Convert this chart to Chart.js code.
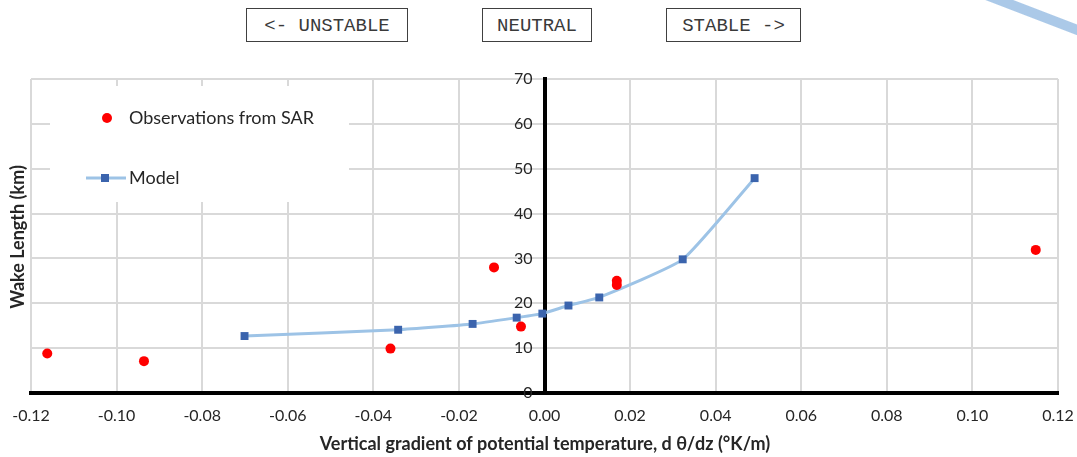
<!DOCTYPE html>
<html>
<head>
    <title>Wake Length vs Vertical Gradient</title>
    <script src="https://cdn.jsdelivr.net/npm/chart.js"></script>
    <style>
        body { margin: 0; background: #fff; }
        #wrap { position: relative; width: 1077px; height: 457px; overflow: hidden; }
        .tag {
            position: absolute; top: 8px; height: 34px; line-height: 34px;
            border: 1px solid #404040; box-sizing: border-box; text-align: center;
            font-family: "Liberation Mono", monospace; font-size: 19px; color: #3a3a3a;
            background: #fff;
        }
        #stroke {
            position: absolute; left: 955px; top: -22px; width: 170px; height: 10px;
            background: #abc9e8; transform-origin: 0 50%; transform: rotate(21deg);
            filter: blur(0.6px);
        }
    </style>
</head>
<body>
<div id="wrap">
    <canvas id="wakeChart" width="1077" height="457"></canvas>
    <div class="tag" style="left:246px; width:162px;">&lt;- UNSTABLE</div>
    <div class="tag" style="left:482px; width:110px;">NEUTRAL</div>
    <div class="tag" style="left:666px; width:135px;">STABLE -&gt;</div>
    <div id="stroke"></div>
</div>

<script>
    // observations from SAR
    const obsX = [-0.1162, -0.0936, -0.0360, -0.0118, -0.0055, 0.0169, 0.0169, 0.1148];
    const obsY = [8.8, 7.1, 9.9, 28.0, 14.8, 25.0, 24.1, 31.9];

    // model curve
    const modelX = [-0.0701, -0.0342, -0.0168, -0.0065, -0.0005, 0.0056, 0.0128, 0.0323, 0.0491];
    const modelY = [12.7, 14.1, 15.4, 16.8, 17.7, 19.5, 21.3, 29.8, 47.9];

    const xTitle = 'Vertical gradient of potential temperature, d \u03b8/dz (\u00b0K/m)';
    const yTitle = 'Wake Length (km)';

    const toPts = (xs, ys) => xs.map((x, i) => ({ x: x, y: ys[i] }));

    const gridColor = '#d9d9d9';
    const textColor = '#262626';

    // axis titles drawn at the outer edges, since the axes sit at the origin
    const axisTitles = {
        id: 'axisTitles',
        afterDraw(chart) {
            const ctx = chart.ctx;
            ctx.save();
            ctx.fillStyle = textColor;
            ctx.font = 'bold 18px Lato';
            ctx.textAlign = 'center';
            ctx.textBaseline = 'middle';
            ctx.fillText(xTitle, 545, 444);
            ctx.translate(18, 237);
            ctx.rotate(-Math.PI / 2);
            ctx.fillText(yTitle, 0, 0);
            ctx.restore();
        }
    };

    // Excel style legend box inside the plot
    const legendBox = {
        id: 'legendBox',
        afterDatasetsDraw(chart) {
            const ctx = chart.ctx;
            const ds = chart.data.datasets;
            ctx.save();
            ctx.fillStyle = '#fff';
            ctx.fillRect(50, 86, 299, 116);

            ctx.fillStyle = ds[0].backgroundColor;
            ctx.beginPath();
            ctx.arc(107, 118, 5, 0, Math.PI * 2);
            ctx.fill();

            ctx.strokeStyle = ds[1].borderColor;
            ctx.lineWidth = 3;
            ctx.beginPath();
            ctx.moveTo(86, 178);
            ctx.lineTo(126, 178);
            ctx.stroke();
            ctx.fillStyle = ds[1].pointBackgroundColor;
            ctx.fillRect(101, 174, 8, 8);

            ctx.fillStyle = textColor;
            ctx.font = '18px Lato';
            ctx.textBaseline = 'middle';
            ctx.fillText(ds[0].label, 129, 118);
            ctx.fillText(ds[1].label, 129, 178);
            ctx.restore();
        }
    };

    new Chart(document.getElementById('wakeChart').getContext('2d'), {
        type: 'scatter',
        data: {
            datasets: [{
                label: 'Observations from SAR',
                data: toPts(obsX, obsY),
                backgroundColor: '#ff0000',
                borderWidth: 0,
                pointRadius: 5,
                pointStyle: 'circle',
                clip: false
            }, {
                label: 'Model',
                data: toPts(modelX, modelY),
                showLine: true,
                borderColor: '#9dc3e6',
                borderWidth: 3,
                tension: 0.15,
                pointStyle: 'rect',
                pointRadius: 5.6,
                pointBackgroundColor: '#3b64ad',
                pointBorderWidth: 0,
                clip: false
            }]
        },
        options: {
            responsive: false,
            animation: false,
            devicePixelRatio: 1,
            layout: { padding: { left: 31, right: 19, top: 79, bottom: 64 } },
            plugins: {
                legend: { display: false },
                tooltip: { enabled: false }
            },
            scales: {
                x: {
                    type: 'linear',
                    position: { y: 0 },
                    min: -0.12,
                    max: 0.12,
                    grid: { color: gridColor, lineWidth: 2, drawTicks: false },
                    border: { color: '#000', width: 4 },
                    ticks: {
                        stepSize: 0.02,
                        padding: 13,
                        color: textColor,
                        font: { family: 'Lato', size: 16 },
                        callback: v => {
                            const s = Number(v).toFixed(2);
                            return s === '-0.00' ? '0.00' : s;
                        }
                    },
                    // end labels may hang over the plot edge, like Excel does
                    afterFit: s => { s.paddingLeft = 0; s.paddingRight = 0; }
                },
                y: {
                    type: 'linear',
                    position: { x: 0 },
                    min: 0,
                    max: 70,
                    grid: { color: gridColor, lineWidth: 2, drawTicks: false },
                    border: { color: '#000', width: 4 },
                    ticks: {
                        stepSize: 10,
                        color: textColor,
                        font: { family: 'Lato', size: 16 },
                        // trailing em space keeps the labels clear of the centred axis
                        callback: v => v + '\u2003'
                    }
                }
            }
        },
        plugins: [legendBox, axisTitles]
    });
</script>
</body>
</html>
